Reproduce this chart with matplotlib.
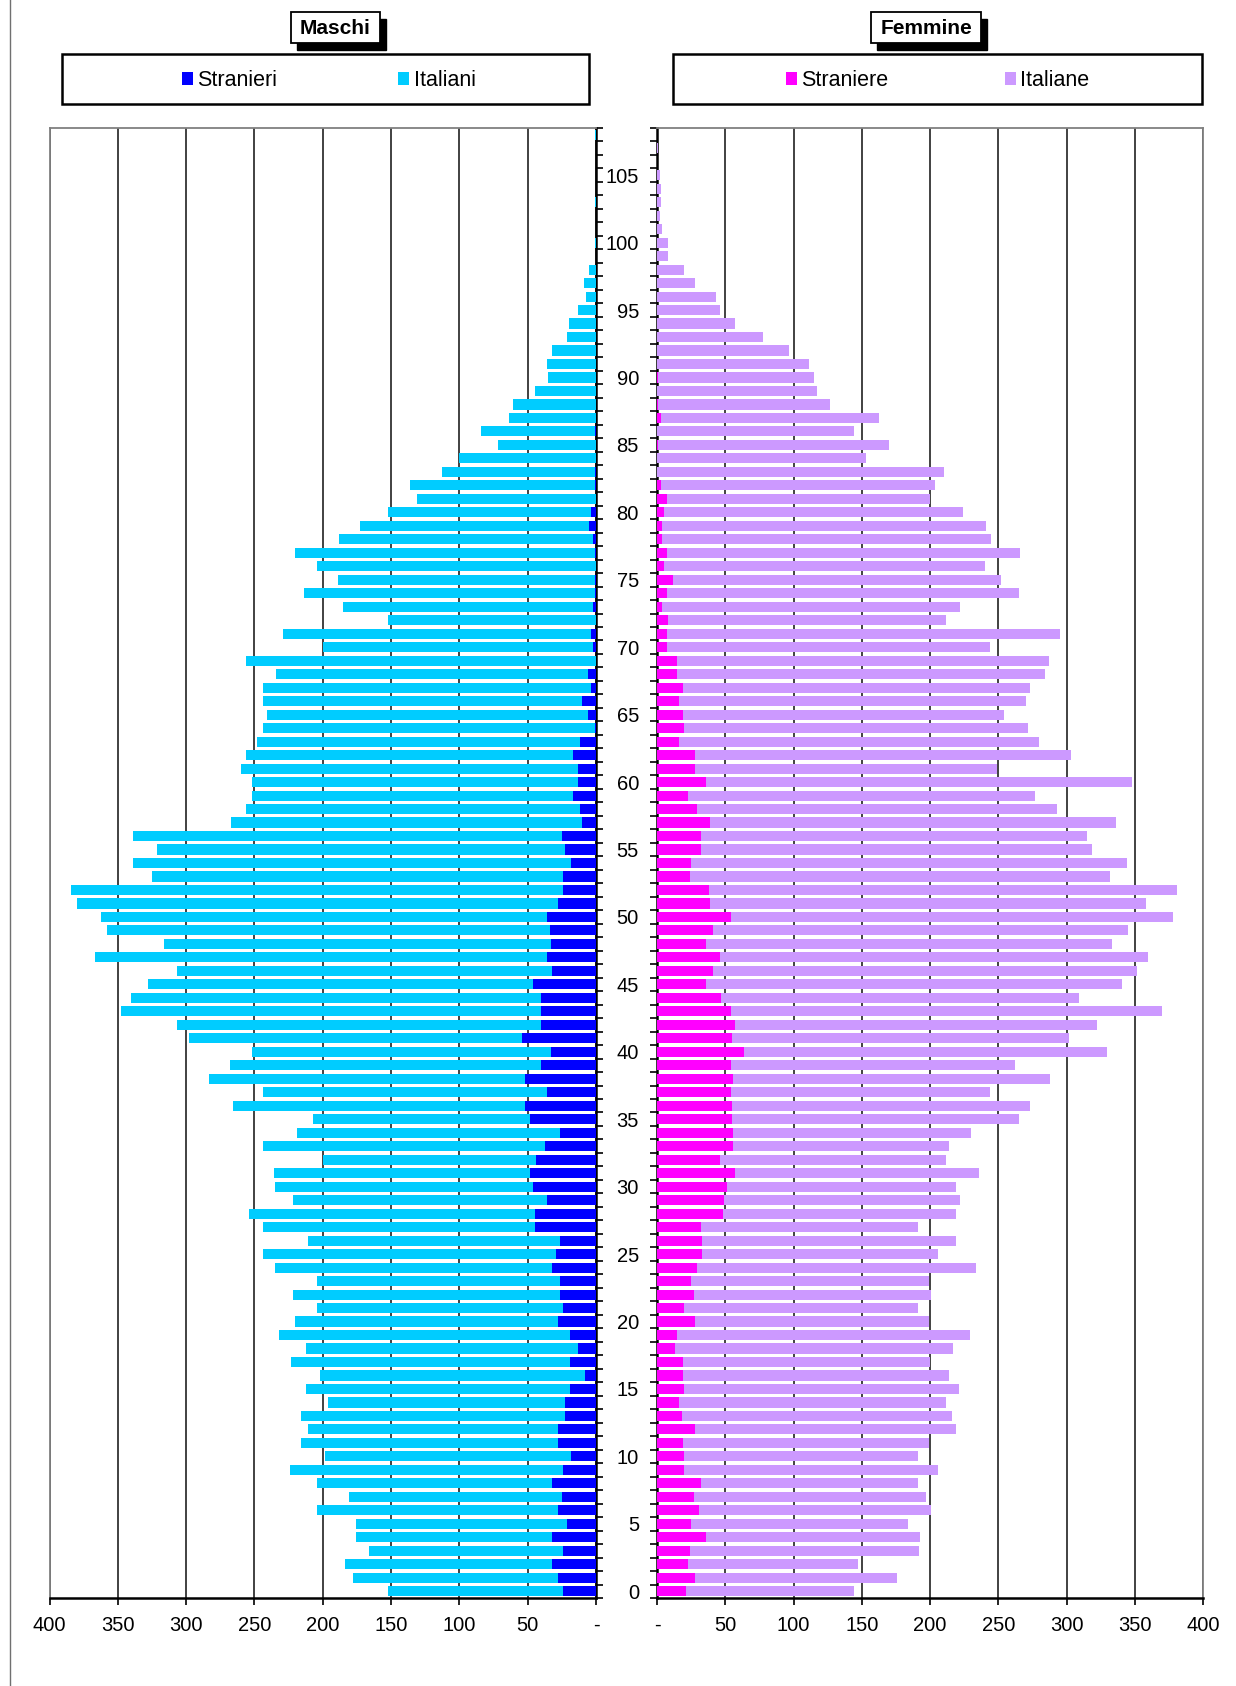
import numpy as np
import matplotlib
matplotlib.use('Agg')
import matplotlib.pyplot as plt
from matplotlib.patches import Rectangle
from matplotlib.lines import Line2D

plt.rcParams['font.family'] = ['Liberation Sans', 'DejaVu Sans']

# ------------------------------------------------------------
# Data: residents by single year of age (0..108)
# ------------------------------------------------------------
ages = np.arange(0, 109)

maschi_stranieri = [
    24, 28, 32, 24, 32, 21, 28, 25, 32, 24,      # 0-9
    18, 28, 28, 23, 23, 19, 8, 19, 13, 19,       # 10-19
    28, 24, 26, 26, 32, 29, 26, 45, 45, 36,      # 20-29
    46, 48, 44, 37, 26, 48, 52, 36, 52, 40,      # 30-39
    33, 54, 40, 40, 40, 46, 32, 36, 33, 34,      # 40-49
    36, 28, 24, 24, 18, 23, 25, 10, 12, 17,      # 50-59
    13, 13, 17, 12, 1, 6, 10, 4, 6, 0,           # 60-69
    2, 4, 0, 2, 1, 1, 0, 1, 2, 5,                # 70-79
    4, 0, 1, 1, 0, 0, 1, 0, 0, 0,                # 80-89
    0, 0, 0, 0, 0, 0, 0, 0, 0, 0,                # 90-99
    0, 0, 0, 0, 0, 0, 0, 0, 0,                   # 100-108
]
maschi_italiani = [
    128, 150, 152, 142, 144, 155, 176, 156, 172, 200,
    180, 188, 183, 193, 173, 193, 194, 204, 199, 213,
    192, 180, 196, 178, 203, 215, 185, 199, 209, 186,
    189, 188, 156, 207, 193, 159, 214, 208, 231, 228,
    219, 244, 267, 308, 300, 282, 275, 331, 283, 324,
    326, 352, 360, 301, 321, 298, 314, 257, 244, 235,
    239, 247, 239, 236, 243, 235, 234, 240, 228, 256,
    198, 225, 152, 183, 213, 188, 204, 219, 186, 168,
    148, 131, 135, 112, 100, 72, 83, 64, 61, 45,
    35, 36, 32, 21, 20, 13, 7, 9, 5, 0,
    1, 0, 0, 1, 0, 0, 0, 0, 1,
]
femmine_straniere = [
    21, 28, 23, 24, 36, 25, 31, 27, 32, 20,
    20, 19, 28, 18, 16, 20, 19, 19, 13, 15,
    28, 20, 27, 25, 29, 33, 33, 32, 48, 49,
    51, 57, 46, 56, 56, 55, 55, 54, 56, 54,
    64, 55, 57, 54, 47, 36, 41, 46, 36, 41,
    54, 39, 38, 24, 25, 32, 32, 39, 29, 23,
    36, 28, 28, 16, 20, 19, 16, 19, 15, 15,
    7, 7, 8, 4, 7, 12, 5, 7, 4, 4,
    5, 7, 3, 0, 0, 1, 0, 3, 1, 0,
    1, 0, 0, 0, 0, 0, 0, 0, 0, 0,
    0, 0, 0, 0, 0, 0, 0, 0, 0,
]
femmine_italiane = [
    123, 148, 124, 168, 157, 159, 170, 170, 159, 186,
    171, 180, 191, 198, 196, 201, 195, 181, 204, 214,
    171, 171, 174, 174, 205, 173, 186, 159, 171, 173,
    168, 179, 166, 158, 174, 210, 218, 190, 232, 208,
    266, 247, 265, 316, 262, 305, 311, 314, 297, 304,
    324, 319, 343, 308, 319, 287, 283, 297, 264, 254,
    312, 221, 275, 264, 252, 235, 254, 254, 269, 272,
    237, 288, 204, 218, 258, 240, 235, 259, 241, 237,
    219, 193, 201, 210, 153, 169, 144, 160, 126, 117,
    114, 111, 97, 78, 57, 46, 43, 28, 20, 8,
    8, 4, 2, 3, 3, 2, 0, 1, 0,
]

x_ticks = list(range(0, 401, 50))
x_ticklabels = ['-' if v == 0 else str(v) for v in x_ticks]
age_labels = list(range(0, 106, 5))

# ------------------------------------------------------------
# Figure
# ------------------------------------------------------------
W, H = 1236, 1686
fig = plt.figure(figsize=(W / 100, H / 100), dpi=100)


def fx(px):
    return px / W


def fy(py):
    return 1 - py / H


top, bottom = 128, 1598
ax_m = fig.add_axes([fx(49.5), fy(bottom), fx(596) - fx(49.5), fy(top) - fy(bottom)])
ax_f = fig.add_axes([fx(657), fy(bottom), fx(1203) - fx(657), fy(top) - fy(bottom)])

C_STR_M, C_ITA_M = '#0000FF', '#00CCFF'
C_STR_F, C_ITA_F = '#FF00FF', '#CC99FF'
bh = 0.75

ax_m.barh(ages, maschi_stranieri, height=bh, color=C_STR_M, label='Stranieri', zorder=3)
ax_m.barh(ages, maschi_italiani, height=bh, left=maschi_stranieri,
          color=C_ITA_M, label='Italiani', zorder=3)
ax_f.barh(ages, femmine_straniere, height=bh, color=C_STR_F, label='Straniere', zorder=3)
ax_f.barh(ages, femmine_italiane, height=bh, left=femmine_straniere,
          color=C_ITA_F, label='Italiane', zorder=3)

for ax in (ax_m, ax_f):
    ax.set_ylim(-0.5, 108.5)
    ax.set_xticks(x_ticks)
    ax.set_xticklabels(x_ticklabels)
    ax.tick_params(axis='x', direction='out', length=5, width=1.2,
                   labelsize=14.5, pad=8)
    ax.xaxis.grid(True, color='#333333', lw=1.3)
    ax.set_axisbelow(True)
    ax.set_yticks(np.arange(-0.5, 109, 1))
    for s in ax.spines.values():
        s.set_color('#808080')
        s.set_linewidth(1.3)
    ax.spines['bottom'].set_color('black')
    ax.spines['bottom'].set_linewidth(1.8)

ax_m.set_xlim(400, 0)
ax_f.set_xlim(0, 400)

# male panel: value axis on the right side (age 0 line)
ax_m.yaxis.tick_right()
ax_m.tick_params(axis='y', direction='out', length=5, width=1.2, labelright=False)
ax_m.spines['right'].set_color('black')
ax_m.spines['right'].set_linewidth(1.8)

# female panel: age labels between the two panels
ax_f.tick_params(axis='y', which='major', direction='out', length=5, width=1.2,
                 labelleft=False)
ax_f.set_yticks(age_labels, minor=True)
ax_f.set_yticklabels([str(a) for a in age_labels], minor=True)
ax_f.tick_params(axis='y', which='minor', length=0, labelsize=14.5, pad=13)
ax_f.spines['left'].set_color('black')
ax_f.spines['left'].set_linewidth(1.8)

# ------------------------------------------------------------
# Legends with boxes
# ------------------------------------------------------------
leg_kw = dict(bbox_transform=fig.transFigure, ncol=2, frameon=False,
              borderpad=0, borderaxespad=0, handlelength=0.5, handleheight=0.56,
              handletextpad=0.22, fontsize=15.5, loc='center left')
h, l = ax_m.get_legend_handles_labels()
ax_m.legend(h, l, bbox_to_anchor=(fx(182), fy(81)), columnspacing=5.6, **leg_kw)
h, l = ax_f.get_legend_handles_labels()
ax_f.legend(h, l, bbox_to_anchor=(fx(786), fy(81)), columnspacing=5.4, **leg_kw)

for x0, x1 in ((62, 589), (673, 1202)):
    fig.add_artist(Rectangle((fx(x0), fy(104)), fx(x1) - fx(x0), fy(54) - fy(104),
                             transform=fig.transFigure, fill=False,
                             ec='black', lw=1.8))

# ------------------------------------------------------------
# Panel titles with drop shadow
# ------------------------------------------------------------
for txt, x0, x1 in (('Maschi', 291, 380), ('Femmine', 871, 981)):
    y0, y1 = 12, 43
    fig.add_artist(Rectangle((fx(x0 + 6), fy(y1 + 7)), fx(x1) - fx(x0), fy(y0) - fy(y1),
                             transform=fig.transFigure, fc='black', ec='black', zorder=4))
    fig.add_artist(Rectangle((fx(x0), fy(y1)), fx(x1) - fx(x0), fy(y0) - fy(y1),
                             transform=fig.transFigure, fc='white', ec='black',
                             lw=1.3, zorder=5))
    fig.text(fx((x0 + x1) / 2), fy((y0 + y1) / 2 + 1), txt, ha='center', va='center',
             fontsize=15, fontweight='bold', zorder=6)

# page border line at far left
fig.add_artist(Line2D([fx(10), fx(10)], [0, 1], transform=fig.transFigure,
                      color='#707070', lw=1))

fig.savefig('out.png', dpi=100)
